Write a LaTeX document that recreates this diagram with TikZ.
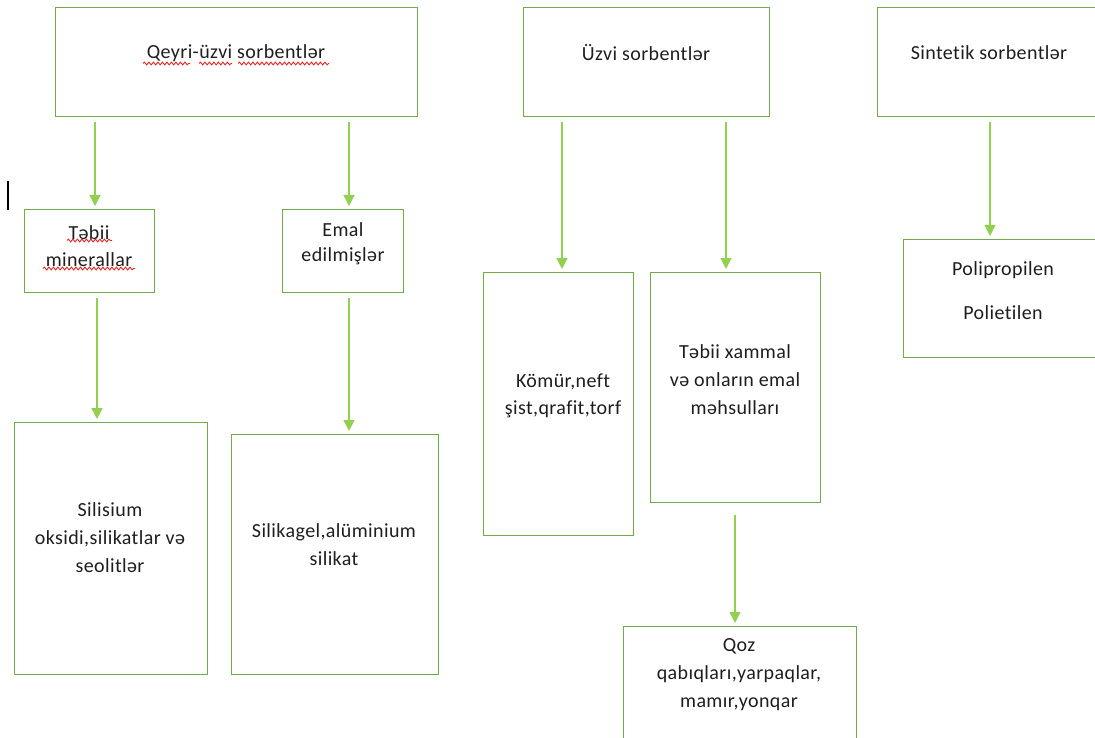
\documentclass[tikz,border=0pt]{standalone}
\usepackage{fontspec}
\setmainfont{Carlito}[Ligatures=NoCommon,LetterSpace=2]
\usetikzlibrary{arrows.meta,decorations.pathmorphing}
\definecolor{boxgreen}{RGB}{112,173,71}
\definecolor{arrgreen}{RGB}{146,208,80}
\definecolor{txt}{RGB}{30,30,30}
\definecolor{spell}{RGB}{232,40,40}
\begin{document}
\begin{tikzpicture}[x=1pt,y=-1pt,
  box/.style={draw=boxgreen,line width=1.3pt,inner sep=0pt,anchor=north west},
  lbl/.style={inner sep=0pt,align=center,text=txt,font=\fontsize{20}{28}\selectfont},
  conn/.style={draw=arrgreen,line width=1.3pt,-{Triangle[width=11pt,length=11pt]},shorten >=3pt},
  wavy/.style={draw=spell,line width=0.9pt,decorate,decoration={snake,amplitude=1.4pt,segment length=4.5pt}}]
\useasboundingbox (0,0) rectangle (1095,738);
\clip (0,0) rectangle (1095,738);

% top level groups
\node[box,minimum width=362pt,minimum height=109pt] (A) at (55,7) {};
\node[box,minimum width=246pt,minimum height=109pt] (B) at (523,7) {};
\node[box,minimum width=230pt,minimum height=109pt] (C) at (877,7) {};

% inorganic branch
\node[box,minimum width=130pt,minimum height=83pt] (D) at (24,209) {};
\node[box,minimum width=121pt,minimum height=83pt] (E) at (282,209) {};
\node[box,minimum width=193pt,minimum height=252pt] (F) at (14,422) {};
\node[box,minimum width=207pt,minimum height=240pt] (G) at (231,434) {};

% organic branch
\node[box,minimum width=150pt,minimum height=263pt] (H) at (483,272) {};
\node[box,minimum width=170pt,minimum height=230pt] (I) at (650,272) {};
\node[box,minimum width=233pt,minimum height=130pt] (J) at (623,626) {};

% synthetic branch
\node[box,minimum width=200pt,minimum height=118pt] (K) at (903,239) {};

% labels
\node[lbl] (At) at (236,53) {Qeyri-üzvi sorbentlər};
\node[lbl] (Bt) at (646,53) {Üzvi sorbentlər};
\node[lbl] (Ct) at (989,53) {Sintetik sorbentlər};
\node[lbl] (Dt) at (89,246) {Təbii\\[-1pt]minerallar};
\node[lbl] (Et) at (343,244) {Emal\\[-3pt]edilmişlər};
\node[lbl] (Ft) at (110,538) {Silisium\\oksidi,silikatlar və\\seolitlər};
\node[lbl] (Gt) at (334,545) {Silikagel,alüminium\\silikat};
\node[lbl] (Ht) at (563,396) {Kömür,neft\\[-1pt]şist,qrafit,torf};
\node[lbl] (It) at (735,380) {Təbii xammal\\və onların emal\\məhsulları};
\node[lbl] (Jt) at (739,675) {Qoz\\qabıqları,yarpaqlar,\\mamır,yonqar};
\node[lbl] (Kt) at (1003,291) {Polipropilen\\[16pt]Polietilen};

% connectors
\coordinate (a1) at (95,122);
\coordinate (a2) at (349,122);
\coordinate (a3) at (97,298);
\coordinate (a4) at (349,298);
\coordinate (b1) at (562,122);
\coordinate (b2) at (726,122);
\coordinate (b3) at (735,515);
\coordinate (c1) at (990,122);
\draw[conn] (a1) -- (a1 |- D.north);
\draw[conn] (a2) -- (a2 |- E.north);
\draw[conn] (a3) -- (a3 |- F.north);
\draw[conn] (a4) -- (a4 |- G.north);
\draw[conn] (b1) -- (b1 |- H.north);
\draw[conn] (b2) -- (b2 |- I.north);
\draw[conn] (b3) -- (b3 |- J.north);
\draw[conn] (c1) -- (c1 |- K.north);

% spelling marks
\draw[wavy] (143,63.5) -- (190,63.5);
\draw[wavy] (199,63.5) -- (232,63.5);
\draw[wavy] (238,63.5) -- (329,63.5);
\draw[wavy] (67,240.5) -- (112,240.5);
\draw[wavy] (43,268.5) -- (135,268.5);

% text cursor
\draw[line width=1.3pt,black] (8,181) -- (8,210);
\end{tikzpicture}
\end{document}
